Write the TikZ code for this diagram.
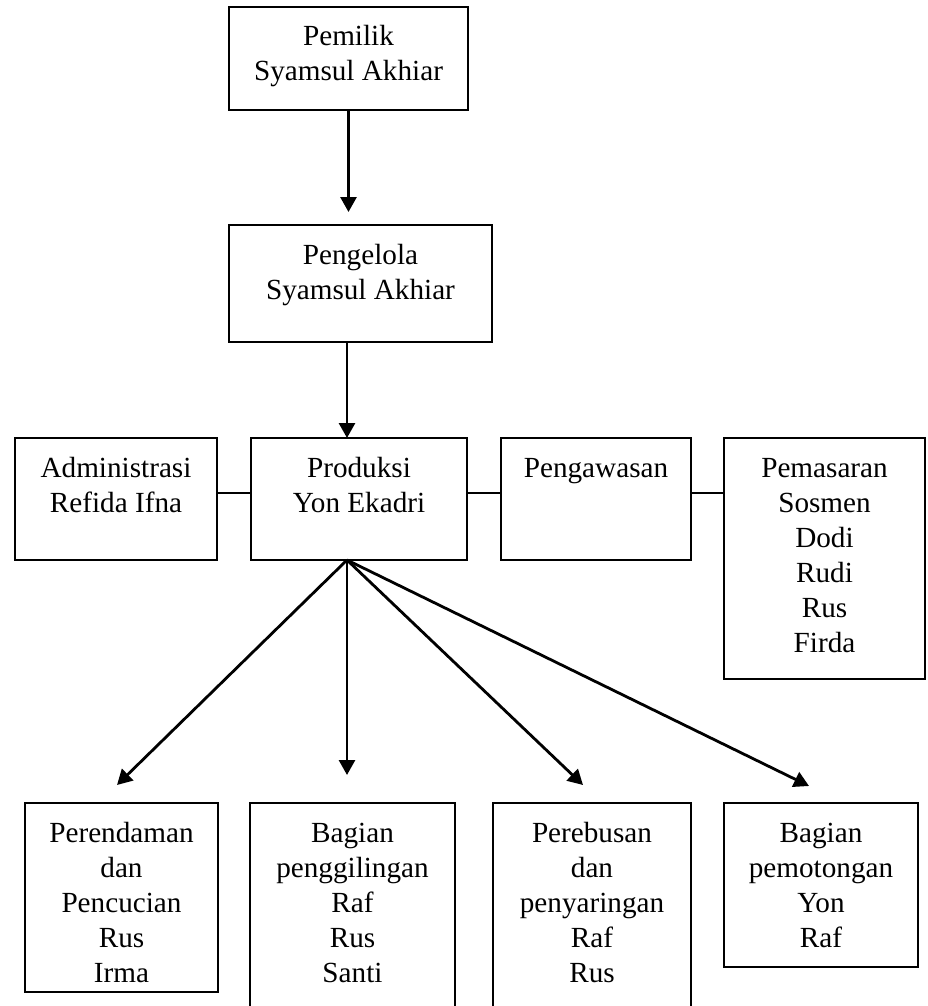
\documentclass[tikz,border=0pt]{standalone}
\usepackage{fontspec}
\setmainfont{Liberation Serif}
\usetikzlibrary{arrows.meta}
\newcommand{\bt}[3]{\parbox[c][#2][t]{#1}{\centering\fontsize{14.6pt}{17.5pt}\selectfont\rule{0pt}{19.5pt}#3\par}}
\begin{document}
\begin{tikzpicture}[x=0.5pt,y=-0.5pt,
  bx/.style={draw, line width=1pt, inner sep=0pt, outer sep=0pt, anchor=north west},
  arr/.style={line width=1.4pt, -{Triangle[width=8pt,length=7.5pt]}},
  ln/.style={line width=1.3pt}]
\useasboundingbox (0,0) rectangle (927,1006);
% boxes
\node[bx] (pemilik) at (229,7) {\bt{119.5pt}{51.5pt}{Pemilik\\Syamsul Akhiar}};
\node[bx] (pengelola) at (229,225) {\bt{131.5pt}{58.5pt}{Pengelola\\Syamsul Akhiar}};
\node[bx] (adm) at (15,438) {\bt{101pt}{61pt}{Administrasi\\Refida Ifna}};
\node[bx] (prod) at (251,438) {\bt{108pt}{61pt}{Produksi\\Yon Ekadri}};
\node[bx] (awas) at (501,438) {\bt{95pt}{61pt}{Pengawasan}};
\node[bx] (pasar) at (724,438) {\bt{100.5pt}{120.5pt}{Pemasaran\\Sosmen\\Dodi\\Rudi\\Rus\\Firda}};
\node[bx] (rendam) at (25,803) {\bt{96.5pt}{94.5pt}{Perendaman\\dan\\Pencucian\\Rus\\Irma}};
\node[bx] (giling) at (250,803) {\bt{102.5pt}{110pt}{Bagian\\penggilingan\\Raf\\Rus\\Santi}};
\node[bx] (rebus) at (493,803) {\bt{99pt}{110pt}{Perebusan\\dan\\penyaringan\\Raf\\Rus}};
\node[bx] (potong) at (724,803) {\bt{97pt}{82pt}{Bagian\\pemotongan\\Yon\\Raf}};
% helper coordinates
\coordinate (ax) at (347,0);
\coordinate (hl) at (0,493);
\coordinate (t1) at (117,785);
\coordinate (t2) at (347,775);
\coordinate (t3) at (583,785);
\coordinate (t4) at (809,786);
% connectors
\draw[arr, shorten >=6.5pt] (pemilik.south) -- (pengelola.north -| pemilik.south);
\draw[arr] (pengelola.south -| ax) -- (prod.north -| ax);
\draw[ln] (adm.east |- hl) -- (prod.west |- hl);
\draw[ln] (prod.east |- hl) -- (awas.west |- hl);
\draw[ln] (awas.east |- hl) -- (pasar.west |- hl);
\draw[arr] (prod.south -| ax) -- (t1);
\draw[arr] (prod.south -| ax) -- (t2);
\draw[arr] (prod.south -| ax) -- (t3);
\draw[arr] (prod.south -| ax) -- (t4);
\end{tikzpicture}
\end{document}
